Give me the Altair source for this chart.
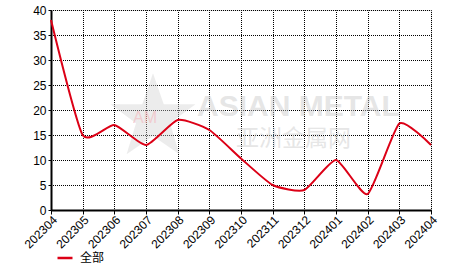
import altair as alt
import pandas as pd

months = ["202304", "202305", "202306", "202307", "202308", "202309", "202310",
          "202311", "202312", "202401", "202402", "202403", "202404"]
values = [38.0, 15.0, 17.0, 13.0, 18.0, 16.0, 10.3, 5.0, 4.0, 10.0, 3.2, 17.3, 13.0]
series = "全部"

df = pd.DataFrame({"month": months, "value": values, "series": [series] * len(months)})

FONT = "Liberation Sans"

# watermark
wm1 = alt.Chart(pd.DataFrame({"t": ["ASIAN METAL"]})).mark_text(
    font=FONT, fontSize=30, fontWeight="bold", color="#c8c8c8", opacity=0.45,
    align="left", baseline="middle"
).encode(x=alt.value(146), y=alt.value(97), text="t:N")
wm2 = alt.Chart(pd.DataFrame({"t": ["亚洲金属网"]})).mark_text(
    font="Noto Sans CJK SC", fontSize=23, color="#c8c8c8", opacity=0.45,
    align="left", baseline="middle"
).encode(x=alt.value(185), y=alt.value(129), text="t:N")
wm3 = alt.Chart(pd.DataFrame({"a": [0]})).mark_point(
    shape="M0,-1L0.24,-0.31L0.95,-0.31L0.38,0.12L0.59,0.81L0,0.4L-0.59,0.81L-0.38,0.12L-0.95,-0.31L-0.24,-0.31Z",
    filled=True, color="#d0d0d0", opacity=0.4, size=8000
).encode(x=alt.value(102), y=alt.value(108))
wm4 = alt.Chart(pd.DataFrame({"t": ["AM"]})).mark_text(
    font=FONT, fontSize=16, color="#f4b8bd", opacity=0.6, align="center", baseline="middle"
).encode(x=alt.value(94), y=alt.value(108), text="t:N")

grid_kw = dict(grid=True, gridColor="#000", gridDash=[1, 1], gridDashOffset=0.5, gridWidth=1)

line = alt.Chart(df).mark_line(interpolate="cardinal", tension=0.45, strokeWidth=2,
                               color="#dc0016").encode(
    x=alt.X("month:O", sort=months,
            scale=alt.Scale(type="point", padding=0),
            axis=alt.Axis(title=None, labelAngle=-45, labelAlign="right", labelBaseline="top",
                          labelFont=FONT, labelFontSize=12, labelColor="#000",
                          labelPadding=0,
                          domainColor="#000", domainWidth=2, tickColor="#000", tickSize=4,
                          **grid_kw)),
    y=alt.Y("value:Q", scale=alt.Scale(domain=[0, 40], nice=False),
            axis=alt.Axis(title=None, values=[0, 5, 10, 15, 20, 25, 30, 35, 40],
                          labelFont=FONT, labelFontSize=12, labelColor="#000", labelPadding=2,
                          domainColor="#000", domainWidth=2, tickColor="#000", tickSize=3,
                          **grid_kw)),
    color=alt.Color("series:N", scale=alt.Scale(domain=[series], range=["#dc0016"]),
                    legend=alt.Legend(title=None, orient="none", legendX=5, legendY=239,
                                      symbolType="stroke", symbolStrokeWidth=2.5, symbolSize=225,
                                      labelFont="Noto Sans CJK SC", labelFontSize=12,
                                      labelColor="#000", labelOffset=6)),
)

chart = alt.layer(wm3, wm4, wm1, wm2, line).properties(
    width=380, height=200,
    autosize=alt.AutoSizeParams(type="none"),
    padding={"left": 51, "top": 10, "right": 35, "bottom": 62},
).configure_view(stroke=None).configure(background="white")

chart.save("out.html", embed_options={"renderer": "svg", "actions": False})
